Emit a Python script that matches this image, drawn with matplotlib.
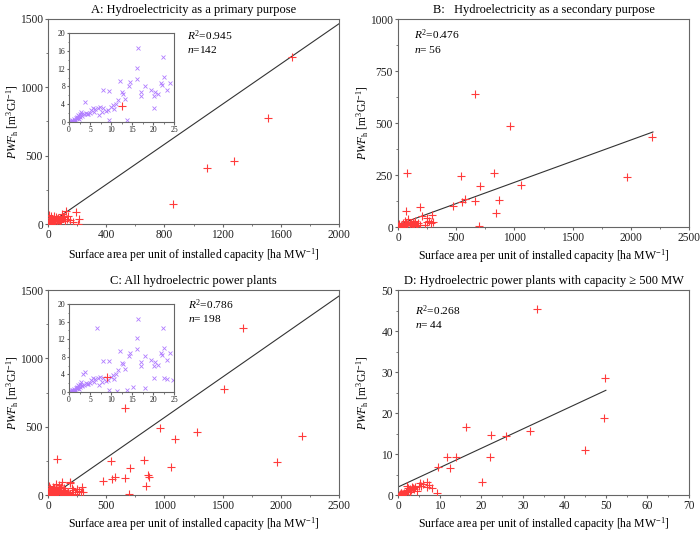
# PWF_h versus surface area per unit of installed capacity, four panels
import matplotlib.pyplot as plt
from matplotlib.ticker import MultipleLocator
import numpy as np

plt.rcParams['font.family'] = ['Liberation Serif', 'DejaVu Serif']
plt.rcParams['mathtext.fontset'] = 'custom'
plt.rcParams['mathtext.rm'] = 'Liberation Serif'
plt.rcParams['mathtext.it'] = 'Liberation Serif:italic'

# A: primary purpose, small values (shown in the inset)
a_small_x = [16.5, 22.4, 16.3, 22.6, 12.1, 14.4, 14.2, 16.2, 18.1, 21.8, 22.2, 24.0, 23.3,
             19.5, 20.5, 21.1, 20.3, 17.2, 17.1, 12.6, 12.9, 13.3, 8.0, 9.6, 11.6, 11.2,
             10.4, 20.3, 3.8, 9.6, 13.8, 5.6, 6.8, 5.2, 6.2, 7.3, 8.0, 8.8, 9.2, 7.1, 6.0,
             5.0, 4.6, 7.8, 9.9, 10.6, 4.0, 4.3, 3.5, 3.0, 2.9, 2.4, 2.0, 1.6, 1.2, 0.8,
             0.4, 0.2, 0.6, 1.0, 1.4, 1.8, 2.2, 2.6, 3.2, 2.7, 2.1, 1.1, 0.5, 1.5, 2.3]
a_small_y = [16.7, 14.5, 12.2, 10.1, 9.3, 8.9, 8.2, 9.7, 8.2, 8.8, 8.3, 8.8, 7.3,
             7.2, 6.8, 6.2, 5.8, 6.8, 5.8, 6.7, 6.3, 5.2, 7.1, 7.0, 4.9, 4.1,
             3.8, 3.2, 4.6, 0.4, 0.4, 3.2, 3.2, 2.7, 2.9, 3.4, 3.1, 2.5, 2.7, 1.6, 2.2,
             2.0, 1.9, 2.2, 3.3, 2.9, 2.0, 1.8, 1.7, 1.7, 2.3, 1.4, 1.1, 0.8, 0.6, 0.4,
             0.2, 0.1, 0.2, 0.3, 0.5, 0.9, 1.0, 1.2, 1.4, 1.9, 1.5, 0.1, 0.0, 0.2, 0.6]
# A: larger values
a_big_x = [1679, 1512, 1276, 1093, 859, 511, 192, 124, 211, 208, 98, 5, 10, 20, 30, 40, 50,
           60, 70, 80, 90, 100, 85, 65, 45, 35, 25, 55, 75, 110, 95, 140, 30, 60, 15, 40,
           115, 130, 150, 170]
a_big_y = [1224, 773, 461, 407, 146, 863, 88, 92, 37, 2, 60, 66, 45, 55, 40, 30, 20,
           35, 45, 40, 30, 50, 15, 10, 8, 22, 15, 48, 28, 60, 70, 55, 5, 5, 30, 60,
           20, 35, 30, 15]

# B: secondary purpose
b_small_x = [6.7, 22.7, 23.3, 24.8, 15.2, 3.3, 1.0, 2.0, 18.0, 11.5]
b_small_y = [14.6, 3.1, 3.0, 2.7, 1.2, 4.2, 0.5, 1.0, 0.8, 0.3]
b_big_x = [665, 960, 2186, 78, 544, 828, 1966, 702, 1054, 573, 553, 665, 865, 845, 470,
           192, 66, 295, 206, 252, 252, 699, 35, 45, 55, 60, 70, 80, 90, 100, 110, 120,
           130, 140, 150, 160, 170, 190, 270, 300, 40, 125, 155, 85, 280, 230]
b_big_y = [638, 488, 434, 262, 246, 259, 242, 198, 202, 134, 120, 123, 130, 67, 99,
           94, 77, 59, 54, 43, 22, 5, 2, 20, 6, 30, 18, 8, 25, 14, 20, 10,
           22, 16, 28, 12, 20, 8, 30, 25, 10, 5, 3, 40, 20, 10]

# D: capacity >= 500 MW
d_x = [33.5, 49.9, 49.5, 45.0, 31.8, 25.9, 22.3, 22.2, 16.4, 11.9, 14.0, 12.6, 9.5, 20.1,
       9.4, 7.0, 7.0, 8.1, 5.2, 5.5, 3.4, 3.6, 3.2, 2.4, 2.2, 1.8, 1.4, 0.8, 0.4, 2.2,
       0.2, 1.0, 0.6, 2.5, 3.9, 4.2, 6.0, 7.5, 2.8, 1.6, 3.0, 5.0, 1.2, 4.6]
d_y = [45.4, 28.6, 18.9, 10.9, 15.5, 14.3, 14.6, 9.2, 16.6, 9.2, 9.2, 6.5, 6.9, 3.1,
       0.4, 3.1, 2.0, 1.6, 3.0, 2.3, 2.0, 1.6, 1.2, 1.8, 1.2, 0.8, 0.6, 0.4, 0.2, 2.3,
       0.1, 0.3, 0.5, 0.9, 1.5, 2.0, 2.6, 2.4, 1.4, 0.3, 0.7, 2.2, 0.2, 1.1]

# fitted lines: intercept, slope, x start, x end
fit_a = [-5.0, 0.735, 0, 2000]
fit_b = [11.0, 0.2036, 0, 2190]
fit_c = [-25.5, 0.5926, 43, 2500]
fit_d = [1.94, 0.472, 0, 50]

titles = ['A: Hydroelectricity as a primary purpose',
          'B:   Hydroelectricity as a secondary purpose',
          'C: All hydroelectric power plants',
          'D: Hydroelectric power plants with capacity \u2265 500 MW']
stats = [('0.945', '142'), ('0.476', ' 56'), ('0.786', ' 198'), ('0.268', ' 44')]

# C is all plants, i.e. A and B together
c_small_x = a_small_x + b_small_x
c_small_y = a_small_y + b_small_y
a_x = a_small_x + a_big_x
a_y = a_small_y + a_big_y
b_x = b_small_x + b_big_x
b_y = b_small_y + b_big_y
c_x = a_x + b_x
c_y = a_y + b_y

red = '#ff3b3b'
purple = '#b07cff'
spine_col = '#666666'
xlab = 'Surface area per unit of installed capacity [ha MW$^{-1}$]'
ylab = r'$\it{PWF}_{\rm h}$ [m$^3$GJ$^{-1}$]'

fig = plt.figure(figsize=(7, 5.34), dpi=100)


def style(ax, xmaj, ymaj, size=8.3, tl=2.5, pad=1.2):
    for s in ax.spines.values():
        s.set_color(spine_col)
        s.set_linewidth(0.8)
    ax.xaxis.set_major_locator(MultipleLocator(xmaj))
    ax.xaxis.set_minor_locator(MultipleLocator(xmaj / 2))
    ax.yaxis.set_major_locator(MultipleLocator(ymaj))
    ax.yaxis.set_minor_locator(MultipleLocator(ymaj / 2))
    ax.tick_params(which='both', direction='out', colors=spine_col, labelcolor='#222222',
                   labelsize=size, top=False, right=False, pad=pad)
    ax.tick_params(which='major', length=tl, width=0.8)
    ax.tick_params(which='minor', length=tl * 0.6, width=0.6)


def panel(rect, x, y, fit, title, st, xmax, ymax, xmaj, ymaj, txt_x, txt_y, xl_y):
    ax = fig.add_axes(rect)
    ax.plot(x, y, '+', color=red, ms=6, mew=0.8, zorder=3)
    xs = np.array([fit[2], fit[3]])
    ax.plot(xs, fit[0] + fit[1] * xs, color='#333333', lw=0.8, zorder=2)
    ax.set_xlim(0, xmax)
    ax.set_ylim(0, ymax)
    style(ax, xmaj, ymaj)
    ax.set_title(title, fontsize=9, pad=4)
    ax.set_xlabel(xlab, fontsize=8.5, va='center')
    ax.xaxis.set_label_coords(0.5, xl_y)
    ax.set_ylabel(ylab, fontsize=8.3, va='center')
    ax.yaxis.set_label_coords(-0.122, 0.5)
    ax.text(txt_x, txt_y, r'$\it{R}^2$=' + st[0], transform=ax.transAxes, fontsize=8.2,
            va='center')
    ax.text(txt_x, txt_y - 0.068, r'$\it{n}$=' + st[1], transform=ax.transAxes,
            fontsize=8.2, va='center')
    return ax


def inset(rect, main_ax, x, y):
    ins = fig.add_axes(rect)
    ins.plot(x, y, 'x', color=purple, ms=2.6, mew=0.6)
    ins.set_xlim(0, 25)
    ins.set_ylim(0, 20)
    style(ins, 5, 4, size=5.5, tl=1.8, pad=1)
    # main axes drawn above the inset so its points show on top
    main_ax.set_zorder(2)
    main_ax.patch.set_visible(False)
    ins.set_zorder(1)
    return ins


ax_a = panel([0.0686, 0.5805, 0.4157, 0.384], a_x, a_y, fit_a, titles[0], stats[0],
             2000, 1500, 400, 500, 0.478, 0.92, -0.151)
inset([0.0986, 0.7715, 0.15, 0.1667], ax_a, a_small_x, a_small_y)

ax_b = panel([0.5686, 0.5749, 0.4157, 0.3895], b_x, b_y, fit_b, titles[1], stats[1],
             2500, 1000, 500, 250, 0.055, 0.923, -0.14)

ax_c = panel([0.0686, 0.073, 0.4157, 0.3839], c_x, c_y, fit_c, titles[2], stats[2],
             2500, 1500, 500, 500, 0.481, 0.93, -0.141)
inset([0.0986, 0.2659, 0.15, 0.1648], ax_c, c_small_x, c_small_y)

ax_d = panel([0.5686, 0.073, 0.4157, 0.3839], d_x, d_y, fit_d, titles[3], stats[3],
             70, 50, 10, 10, 0.058, 0.90, -0.141)

fig.savefig('out.png', dpi=100)
